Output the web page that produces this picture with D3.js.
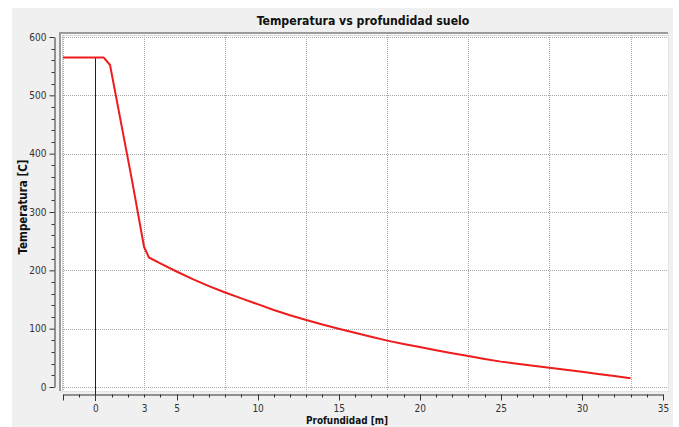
<!DOCTYPE html>
<html><head><meta charset="utf-8">
<script src="https://cdn.jsdelivr.net/npm/d3@7"></script>
<style>body{margin:0;background:#fff}svg{display:block}</style>
</head><body>
<script>
const depth = [-2, 0.5, 0.9, 2.25, 3.0, 3.3, 4, 5, 6, 7, 8, 9, 10, 11, 12, 13, 14, 15, 16, 17, 18, 19, 20, 21, 22, 23, 24, 25, 26, 27, 28, 29, 30, 31, 32, 33];
const temperature = [565, 565, 552, 355, 240, 222, 212, 198, 185, 173, 162, 152, 142, 132, 123, 115, 107, 100, 93, 86, 79.5, 73.8, 68.5, 63, 58, 53, 48, 43.5, 40, 36.5, 33, 29.5, 26, 22.3, 18.7, 15];
const xTickLabels = [0, 3, 5, 10, 15, 20, 25, 30, 35];
const xGrid = [-2, 3, 8, 13, 18, 23, 28, 33];
const yTicks = [0, 100, 200, 300, 400, 500, 600];
const markerDepth = 0;
const markerTemp = 565;
const title = "Temperatura vs profundidad suelo";
const xTitle = "Profundidad [m]";
const yTitle = "Temperatura [C]";

const W = 679, H = 427;
const svg = d3.select("body").append("svg").attr("width", W).attr("height", H);
svg.append("rect").attr("x", 12).attr("y", 8).attr("width", 661).attr("height", 419).attr("fill", "#f0f0f0");

const x = d3.scaleLinear().domain([-2, 35]).range([63, 663]);
const y = d3.scaleLinear().domain([0, 600]).range([387, 37]);

const pL = 60, pT = 33, pR = 668, pB = 391;
svg.append("rect").attr("x", pL).attr("y", pT).attr("width", pR - pL).attr("height", pB - pT).attr("fill", "#fff");
svg.append("path").attr("d", `M${pL},${pB} V${pT} H${pR}`).attr("fill", "none").attr("stroke", "#9a9a9a").attr("stroke-width", 2);
svg.append("path").attr("d", `M${pL+2.5},${pB} V${pT+2.5} H${pR}`).attr("fill", "none").attr("stroke", "#d8d8d8").attr("stroke-width", 1);
svg.append("path").attr("d", `M${pL},${pB+0.5} H${pR+0.5} V${pT}`).attr("fill", "none").attr("stroke", "#e4e4e4").attr("stroke-width", 1);

const grid = svg.append("g").attr("stroke", "#a8a8a8").attr("stroke-width", 1).attr("stroke-dasharray", "1,1");
yTicks.forEach(v => grid.append("line").attr("x1", pL + 2).attr("x2", pR).attr("y1", Math.round(y(v)) + 0.5).attr("y2", Math.round(y(v)) + 0.5));
xGrid.forEach(v => grid.append("line").attr("y1", pT + 2).attr("y2", pB).attr("x1", Math.round(x(v)) + 0.5).attr("x2", Math.round(x(v)) + 0.5));

svg.append("line").attr("x1", Math.round(x(markerDepth)) + 0.5).attr("x2", Math.round(x(markerDepth)) + 0.5)
  .attr("y1", y(markerTemp)).attr("y2", 401).attr("stroke", "#222").attr("stroke-width", 1);

const line = d3.line().x((d, i) => x(depth[i])).y(d => y(d));
svg.append("path").datum(temperature).attr("d", line).attr("fill", "none").attr("stroke", "#ee1c1c").attr("stroke-width", 2).attr("stroke-linejoin", "round");

const font = "Tahoma, 'DejaVu Sans Condensed', 'Liberation Sans', sans-serif";

const yAxisG = svg.append("g").attr("transform", "translate(54.5,0)");
yAxisG.call(d3.axisLeft(y).tickValues(yTicks).tickSize(5).tickPadding(3).tickSizeOuter(0));
const yMinor = d3.range(0, 601, 20).filter(v => v % 100 !== 0);
yAxisG.selectAll(".minor").data(yMinor).enter().append("line").attr("class", "minor")
  .attr("x1", -3).attr("x2", 0).attr("y1", d => Math.round(y(d)) + 0.5).attr("y2", d => Math.round(y(d)) + 0.5).attr("stroke", "#333");
yAxisG.select(".domain").attr("stroke", "#333");
yAxisG.selectAll(".tick line").attr("stroke", "#333");
yAxisG.selectAll(".tick text").attr("font-family", font).attr("font-size", 10).attr("fill", "#333");

const xAxisG = svg.append("g").attr("transform", "translate(0,394.5)");
xAxisG.call(d3.axisBottom(x).tickValues(xTickLabels).tickSize(0).tickPadding(10).tickSizeOuter(0));
xAxisG.select(".domain").attr("stroke", "#333");
xAxisG.selectAll(".tick text").attr("font-family", font).attr("font-size", 10).attr("fill", "#333");
const xMinor = d3.range(-2, 36, 1);
xAxisG.selectAll(".mt").data(xMinor).enter().append("line").attr("class", "mt")
  .attr("x1", d => Math.round(x(d)) + 0.5).attr("x2", d => Math.round(x(d)) + 0.5)
  .attr("y1", 0).attr("y2", d => (d % 5 === 0 || d === -2) ? 6 : 3).attr("stroke", "#333");

function fit(t, w) {
  const len = t.node().getComputedTextLength();
  const fs = parseFloat(t.attr("font-size"));
  t.attr("font-size", fs * w / len);
}
const tt = svg.append("text").attr("x", 363).attr("y", 25).attr("text-anchor", "middle")
  .attr("font-family", font).attr("font-weight", "bold").attr("font-size", 13).attr("fill", "#111").text(title);
fit(tt, 213);
const xt = svg.append("text").attr("x", 347).attr("y", 424).attr("text-anchor", "middle")
  .attr("font-family", font).attr("font-weight", "bold").attr("font-size", 10).attr("fill", "#111").text(xTitle);
fit(xt, 82);
const yt = svg.append("text").attr("transform", "translate(27,207) rotate(-90)").attr("text-anchor", "middle")
  .attr("font-family", font).attr("font-weight", "bold").attr("font-size", 10).attr("fill", "#111").text(yTitle);
fit(yt, 95);
</script>
</body></html>
